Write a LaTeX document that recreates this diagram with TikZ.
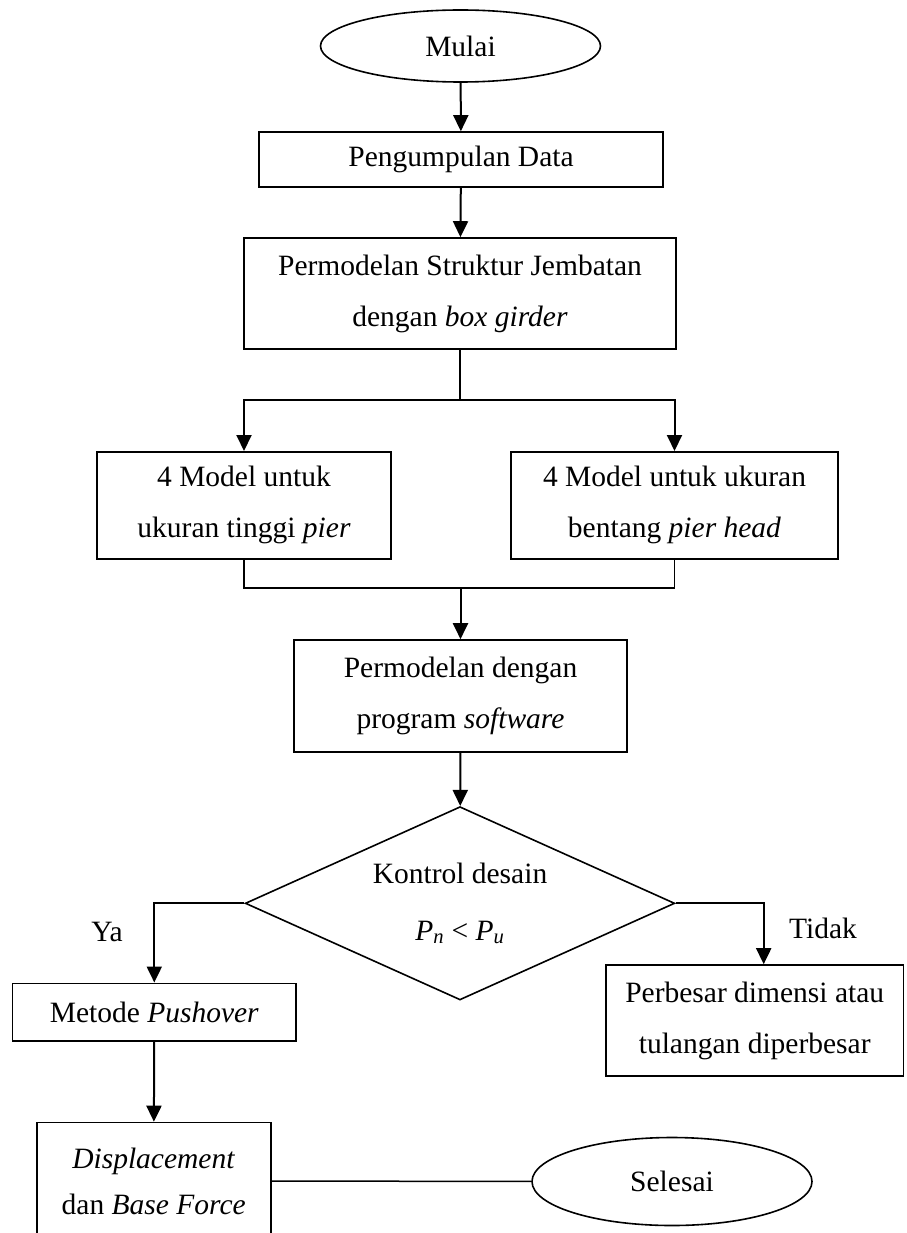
\documentclass[tikz,border=0pt]{standalone}
\usepackage{fontspec}
\setmainfont{Liberation Serif}
\usetikzlibrary{shapes.geometric,arrows.meta}
\begin{document}
\begin{tikzpicture}[x=1pt,y=-1pt,
  txt/.style={font=\fontsize{29.5}{51}\selectfont, align=center, inner sep=0pt},
  box/.style={txt, draw, line width=1.6pt, rectangle},
  term/.style={txt, draw, line width=1.6pt, ellipse, minimum width=280pt},
  arr/.style={line width=2pt, -{Triangle[length=16pt,width=15pt]}},
  ln/.style={line width=1.5pt},
]
\useasboundingbox (0,0) rectangle (906,1233);
\clip (0,0) rectangle (906,1233);

\node[term, minimum height=72pt] (mulai) at (460.5,46) {Mulai};
\node[box, minimum width=404pt, minimum height=55pt] (pd) at (461,159.5) {Pengumpulan Data};
\node[box, minimum width=432pt, minimum height=111pt] (psj) at (460,293.5) {Permodelan Struktur Jembatan\\dengan \textit{box girder}};
\node[box, minimum width=294pt, minimum height=107pt] (m1) at (244,505.3) {4 Model untuk\\ukuran tinggi \textit{pier}};
\node[box, minimum width=327.5pt, minimum height=107pt] (m2) at (674.5,505.3) {4 Model untuk ukuran\\bentang \textit{pier head}};
\node[box, minimum width=333pt, minimum height=112pt] (pds) at (460.5,696) {Permodelan dengan\\program \textit{software}};
\node[txt, draw, line width=1.6pt, diamond, shape aspect=2.2, minimum width=429.5pt, minimum height=193.3pt] (dec) at (460,903.3) {Kontrol desain\\[6pt]\textit{P}\textsubscript{\textit{n}} < \textit{P}\textsubscript{\textit{u}}};
\node[box, minimum width=283.3pt, minimum height=57.4pt] (mp) at (154.3,1012) {Metode \textit{Pushover}};
\node[box, minimum width=234pt, minimum height=117pt] (disp) at (153.7,1181) {\textit{Displacement}\\[-5pt]dan \textit{Base Force}};
\node[term, minimum height=88pt] (sel) at (672,1181.5) {Selesai};
\node[box, minimum width=297.3pt, minimum height=111pt] (pb) at (754.7,1020.5) {Perbesar dimensi atau\\tulangan diperbesar};
\node[txt] (ya) at (107,931.7) {Ya};
\node[txt] (tidak) at (823,928) {Tidak};

\coordinate (split) at (460,400);
\coordinate (merge) at (460.5,588);

\draw[arr] (mulai) -- (pd);
\draw[arr] (pd) -- (psj);
\draw[ln] (psj.south) -- (split);
\draw[arr] (split) -| (m1);
\draw[arr] (split) -| (m2);
\draw[ln] (m1.south) |- (merge);
\draw[ln] (m2.south) |- (merge);
\draw[arr] (merge) -- (pds);
\draw[arr] (pds) -- (dec);
\draw[arr] (dec.west) -| (mp.north);
\draw[arr] (dec.east) -| ([xshift=9pt]pb.north);
\draw[arr] (mp) -- (disp);
\draw[ln] (disp) -- (sel);
\end{tikzpicture}
\end{document}
